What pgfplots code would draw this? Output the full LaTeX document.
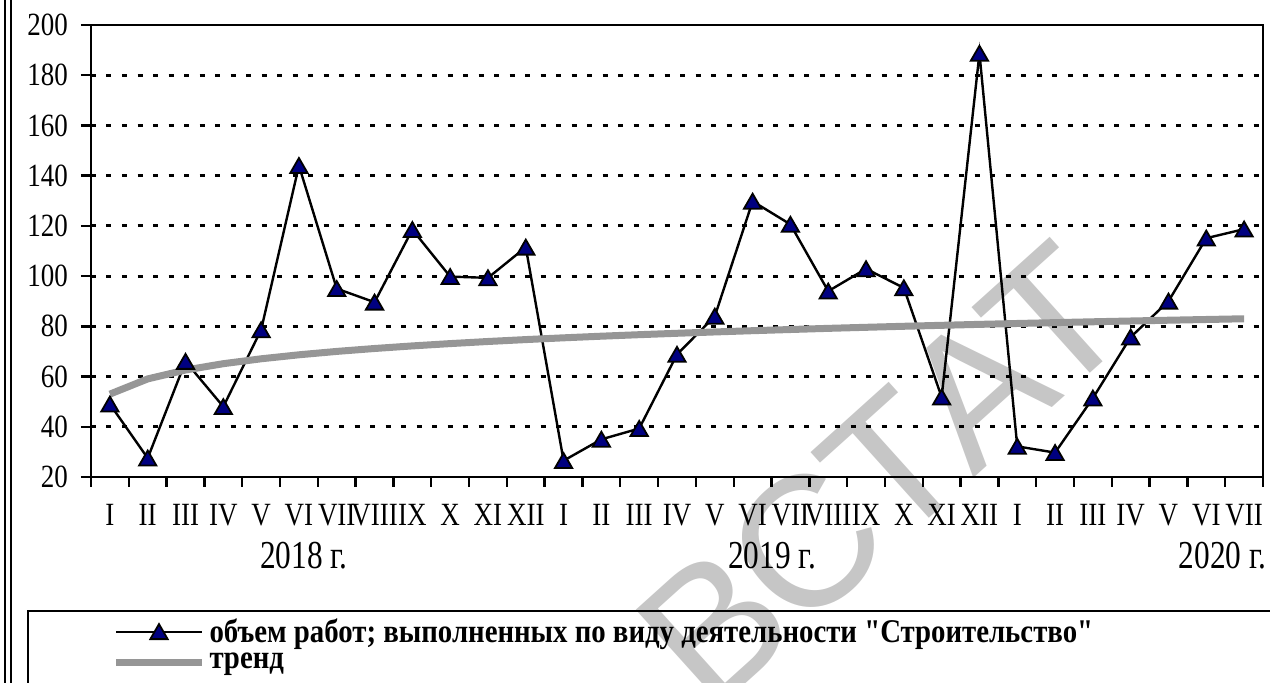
\documentclass[border=0pt]{standalone}
\usepackage{fontspec}
\setmainfont{Liberation Serif}[Ligatures=TeXOff]
\newfontfamily\wmfont{Liberation Sans}
\usepackage{pgfplots}
\pgfplotsset{compat=1.18}
\definecolor{navy}{RGB}{0,0,128}
\definecolor{trendgray}{RGB}{150,150,150}
\definecolor{wm}{RGB}{198,198,198}
\newcommand{\st}[1]{\scalebox{1}[1.2]{#1}}
\pgfplotstableread{
x y
1 49
2 27.5
3 66
4 48
5 78.6
6 144
7 95
8 89.6
9 118.5
10 99.8
11 99.3
12 111.5
13 26.5
14 35
15 39.3
16 68.8
17 84
18 129.8
19 120.6
20 94
21 102.9
22 95.3
23 51.8
24 188.7
25 32.2
26 29.7
27 51.4
28 75.7
29 90
30 115.1
31 118.7
}\datatab
\pgfplotstableread{
x y
1 53.0
2 59.06
3 62.60
4 65.12
5 67.07
6 68.66
7 70.01
8 71.17
9 72.20
10 73.12
11 73.96
12 74.72
13 75.42
14 76.07
15 76.67
16 77.23
17 77.76
18 78.26
19 78.73
20 79.19
21 79.61
22 80.02
23 80.40
24 80.78
25 81.13
26 81.47
27 81.81
28 82.12
29 82.43
30 82.72
31 83.01
}\trendtab
\begin{document}
\begin{tikzpicture}
\begin{scope}[shift={(-45.5pt,-103pt)}, x=1pt, y=1pt]
\node[wm, rotate=42, inner sep=0pt, font=\wmfont\fontsize{93}{93}\selectfont] at (441,104) {ВСТАТ};
\end{scope}
\begin{axis}[
  scale only axis,
  width=586pt, height=226pt,
  xmin=0.5, xmax=31.5, ymin=20, ymax=200,
  axis line style={line width=1.3pt},
  tick style={line width=1.2pt, black},
  tick align=outside, major tick length=5pt,
  xtick={0.5,1.5,...,31.5}, xticklabels={},
  extra x ticks={1,2,...,31},
  extra x tick labels={\st{I},\st{II},\st{III},\st{IV},\st{V},\st{VI},\st{VII},\st{VIII},\st{IX},\st{X},\st{XI},\st{XII},\st{I},\st{II},\st{III},\st{IV},\st{V},\st{VI},\st{VII},\st{VIII},\st{IX},\st{X},\st{XI},\st{XII},\st{I},\st{II},\st{III},\st{IV},\st{V},\st{VI},\st{VII}},
  extra x tick style={major tick length=0pt, grid=none},
  x tick label style={font=\fontsize{13.5}{13.5}\selectfont, yshift=-10pt},
  ytick={20,40,...,200},
  yticklabel={\st{\pgfmathprintnumber{\tick}}},
  y tick label style={font=\fontsize{13.5}{13.5}\selectfont, xshift=-3pt},
  /pgf/number format/assume math mode=true,
  ymajorgrids,
  grid style={black, line width=1.4pt, dash pattern=on 2.5pt off 5.25pt},
  xtick pos=bottom, ytick pos=left,
  legend style={draw=none, fill=none, at={(axis description cs:0.018,-0.303)}, anchor=north west,
    font=\bfseries\fontsize{14.4}{14.4}\selectfont, row sep=0pt, inner sep=0pt},
  legend cell align=left,
  legend image code/.code={\draw[#1, mark repeat=2, mark phase=2] plot coordinates {(0pt,0pt) (21.5pt,0pt) (43pt,0pt)};},
]
\addplot[black, line width=1.2pt, mark=triangle*, mark size=5pt,
  mark options={fill=navy, draw=black, line width=0.9pt, yshift=-1.2pt}] table[x=x,y=y] {\datatab};
\addlegendentry{\scalebox{1}[1.15]{объем работ; выполненных по виду деятельности "Строительство"}}
\addplot[trendgray, line width=3.5pt, mark=none] table[x=x,y=y] {\trendtab};
\addlegendentry{\scalebox{1}[1.15]{тренд}}
\end{axis}
\begin{scope}[shift={(-45.5pt,-103pt)}, x=1pt, y=1pt]
\node[font=\fontsize{18}{18}\selectfont] at (152,63.5) {\scalebox{0.87}[1.1]{2018 г.}};
\node[font=\fontsize{18}{18}\selectfont] at (386,63.5) {\scalebox{0.87}[1.1]{2019 г.}};
\node[font=\fontsize{18}{18}\selectfont, anchor=east, inner sep=0pt] at (633.5,63.5) {\scalebox{0.87}[1.1]{2020 г.}};
\draw[line width=1pt] (2.5,-1) -- (2.5,343);
\draw[line width=1pt] (5.5,-1) -- (5.5,343);
\draw[line width=1.2pt] (14,-1) -- (14,36) -- (637,36);
\pgfresetboundingbox
\path[use as bounding box] (0,0) rectangle (635,341.5);
\end{scope}
\end{tikzpicture}
\end{document}
